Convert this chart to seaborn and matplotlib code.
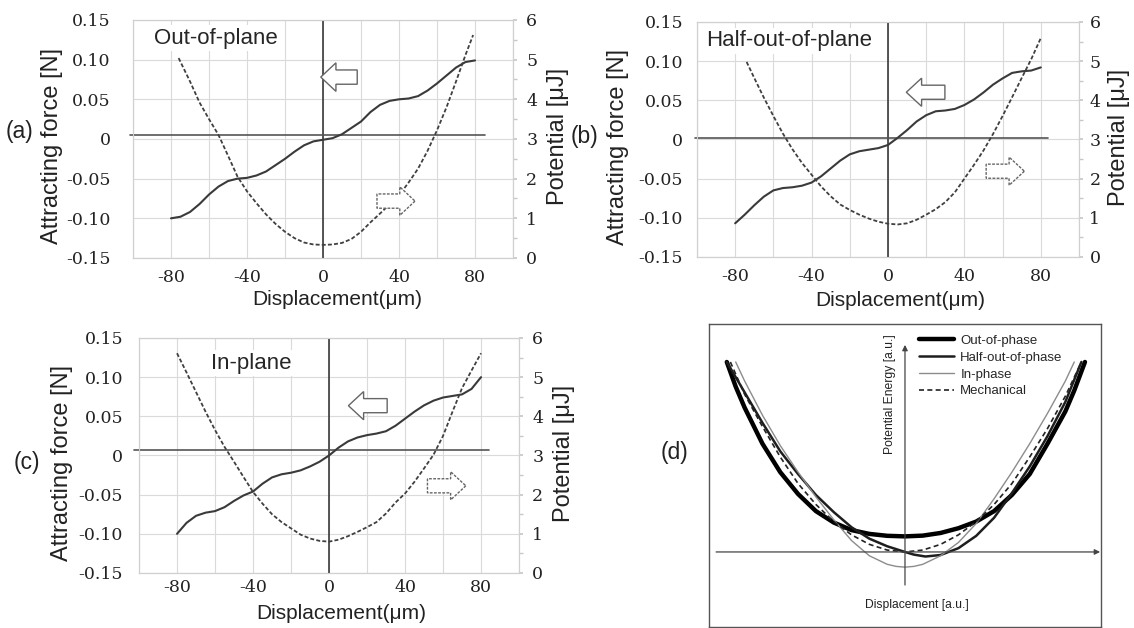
import matplotlib
matplotlib.use("Agg")
import numpy as np
import matplotlib.pyplot as plt
from matplotlib.patches import FancyArrow
import seaborn as sns

sns.set_theme(style="white")
plt.rcParams["font.family"] = ["Liberation Sans", "DejaVu Sans"]
SERIF = "DejaVu Serif"

# displacement (um) for the force curves
disp = [-80, -75, -70, -65, -60, -55, -50, -45, -40, -35, -30, -25, -20, -15, -10, -5,
        0, 5, 10, 15, 20, 25, 30, 35, 40, 45, 50, 55, 60, 65, 70, 75, 80]

# (a) out-of-plane
force_a = [-0.100, -0.098, -0.092, -0.082, -0.070, -0.060, -0.053, -0.050, -0.049, -0.046,
           -0.041, -0.033, -0.025, -0.016, -0.008, -0.003, -0.001, 0.001, 0.006, 0.014,
           0.022, 0.034, 0.043, 0.048, 0.050, 0.051, 0.054, 0.061, 0.070, 0.080, 0.090,
           0.097, 0.099]
pot_a_x = [-76, -70, -65, -60, -55, -50, -45, -40, -35, -30, -25, -20, -15, -10, -5, 0,
           5, 10, 15, 20, 25, 30, 35, 40, 45, 50, 55, 60, 65, 70, 75, 79]
pot_a = [5.04, 4.45, 3.92, 3.50, 3.10, 2.58, 2.05, 1.68, 1.38, 1.10, 0.86, 0.66, 0.50,
         0.39, 0.34, 0.33, 0.34, 0.38, 0.48, 0.66, 0.90, 1.12, 1.35, 1.58, 1.90, 2.25,
         2.70, 3.22, 3.80, 4.45, 5.12, 5.62]

# (b) half-out-of-plane
force_b = [-0.107, -0.096, -0.084, -0.073, -0.065, -0.062, -0.061, -0.059, -0.055, -0.047,
           -0.037, -0.027, -0.019, -0.015, -0.013, -0.011, -0.007, 0.002, 0.012, 0.023,
           0.031, 0.036, 0.037, 0.039, 0.044, 0.051, 0.060, 0.070, 0.078, 0.085, 0.087,
           0.088, 0.092]
pot_b_x = [-74, -70, -65, -60, -55, -50, -45, -40, -35, -30, -25, -20, -15, -10, -5, 0,
           5, 10, 15, 20, 25, 30, 35, 40, 45, 50, 55, 60, 65, 70, 75, 80]
pot_b = [4.98, 4.57, 4.07, 3.60, 3.15, 2.75, 2.40, 2.10, 1.80, 1.55, 1.34, 1.20, 1.08,
         0.98, 0.90, 0.85, 0.83, 0.86, 0.95, 1.08, 1.22, 1.40, 1.65, 2.00, 2.35, 2.72,
         3.14, 3.60, 4.08, 4.57, 5.05, 5.59]

# (c) in-plane
force_c = [-0.100, -0.086, -0.077, -0.073, -0.071, -0.066, -0.058, -0.051, -0.046, -0.036,
           -0.028, -0.024, -0.022, -0.019, -0.014, -0.008, 0.000, 0.010, 0.018, 0.023,
           0.026, 0.028, 0.031, 0.038, 0.047, 0.056, 0.064, 0.070, 0.074, 0.076, 0.078,
           0.085, 0.100]
pot_c_x = [-80, -75, -70, -65, -60, -55, -50, -45, -40, -35, -30, -25, -20, -15, -10, -5,
           0, 5, 10, 15, 20, 25, 30, 35, 40, 45, 50, 55, 60, 65, 70, 75, 80]
pot_c = [5.61, 5.12, 4.62, 4.12, 3.65, 3.22, 2.84, 2.45, 2.07, 1.77, 1.50, 1.30, 1.14,
         0.98, 0.88, 0.82, 0.80, 0.85, 0.94, 1.05, 1.17, 1.30, 1.52, 1.80, 2.03, 2.33,
         2.67, 3.02, 3.50, 4.12, 4.72, 5.17, 5.61]

# (d) potential energy sketches (arbitrary units)
d_out_x = [-1.0, -0.95, -0.9, -0.85, -0.8, -0.7, -0.6, -0.5, -0.4, -0.3, -0.2, -0.1, 0.0,
           0.1, 0.2, 0.3, 0.4, 0.5, 0.6, 0.7, 0.8, 0.9, 0.95, 1.01]
d_out_y = [1.0, 0.87, 0.76, 0.665, 0.57, 0.42, 0.305, 0.215, 0.155, 0.115, 0.095, 0.085,
           0.082, 0.086, 0.10, 0.125, 0.16, 0.215, 0.30, 0.41, 0.57, 0.74, 0.85, 1.0]
d_half_x = [-1.0, -0.9, -0.8, -0.7, -0.6, -0.5, -0.4, -0.3, -0.2, -0.1, 0.0, 0.05, 0.115,
            0.2, 0.3, 0.4, 0.5, 0.6, 0.7, 0.8, 0.9, 0.99]
d_half_y = [1.0, 0.84, 0.68, 0.53, 0.41, 0.30, 0.21, 0.13, 0.07, 0.03, 0.0, -0.014,
            -0.024, -0.016, 0.02, 0.085, 0.18, 0.31, 0.45, 0.61, 0.79, 1.0]
d_in_x = [-0.95, -0.9, -0.8, -0.7, -0.6, -0.5, -0.4, -0.3, -0.2, -0.1, -0.05, 0.0, 0.05,
          0.1, 0.2, 0.3, 0.4, 0.5, 0.6, 0.7, 0.8, 0.9, 0.95]
d_in_y = [1.0, 0.9, 0.72, 0.56, 0.42, 0.29, 0.17, 0.06, -0.02, -0.065, -0.076, -0.08,
          -0.076, -0.065, -0.02, 0.05, 0.15, 0.28, 0.42, 0.57, 0.73, 0.9, 1.0]
d_mech_x = [-0.98, -0.9, -0.8, -0.7, -0.6, -0.5, -0.4, -0.3, -0.2, -0.1, 0.0, 0.1, 0.2,
            0.3, 0.4, 0.5, 0.6, 0.7, 0.8, 0.9, 0.98]
d_mech_y = [1.0, 0.83, 0.66, 0.5, 0.36, 0.25, 0.16, 0.09, 0.04, 0.01, 0.0, 0.01, 0.04,
            0.09, 0.16, 0.25, 0.36, 0.5, 0.65, 0.82, 0.98]

x_ticks = [-100, -80, -60, -40, -20, 0, 20, 40, 60, 80, 100]
x_labels = ["", "-80", "", "-40", "", "0", "", "40", "", "80", ""]
y_ticks = [-0.15, -0.10, -0.05, 0, 0.05, 0.10, 0.15]
y_labels = ["-0.15", "-0.10", "-0.05", "0", "0.05", "0.10", "0.15"]
p_ticks = [0, 1, 2, 3, 4, 5, 6]

fig = plt.figure(figsize=(11.34, 6.28), dpi=100)


def block_arrow(ax, x0, x1, yc, left, dashed):
    h = 0.12
    if left:
        arr = FancyArrow(x1, yc, x0 - x1, 0, width=h * 0.5, head_width=h, head_length=0.04,
                         length_includes_head=True, transform=ax.transAxes)
    else:
        arr = FancyArrow(x0, yc, x1 - x0, 0, width=h * 0.5, head_width=h, head_length=0.04,
                         length_includes_head=True, transform=ax.transAxes)
    arr.set_facecolor("white")
    arr.set_edgecolor("#666666")
    arr.set_linewidth(1.0)
    if dashed:
        arr.set_linestyle((0, (2, 1)))
    arr.set_zorder(6)
    ax.add_patch(arr)


def force_panel(rect, force, pot_x, pot, title, title_xy, zero_y, zero_x, ypad, xpad,
                ylab_x, rlab_x, xlab_xy, arrow_l, arrow_r, rpad):
    ax = fig.add_axes(rect)
    ax.set_xlim(-100, 100)
    ax.set_ylim(-0.15, 0.15)
    ax.set_xticks(x_ticks)
    ax.set_xticklabels(x_labels, fontfamily=SERIF, fontsize=12.5)
    ax.set_yticks(y_ticks)
    ax.set_yticklabels(y_labels, fontfamily=SERIF, fontsize=12.5)
    ax.tick_params(axis="x", length=0, pad=xpad, colors="#222222")
    ax.tick_params(axis="y", length=0, pad=ypad, colors="#222222")
    ax.grid(True, color="#dadada", lw=0.8)
    for s in ax.spines.values():
        s.set_color("#d0d0d0")
        s.set_linewidth(0.8)

    sns.lineplot(x=disp, y=force, ax=ax, color="#3a3a3a", lw=1.5, zorder=4)
    ax.axvline(0, color="#3a3a3a", lw=1.2, zorder=3)
    ax.plot(zero_x, [zero_y, zero_y], color="#555555", lw=1.2, clip_on=False, zorder=3)
    ax.text(title_xy[0], title_xy[1], title, fontsize=16, va="center", ha="left", zorder=3.5,
            bbox=dict(facecolor="white", edgecolor="none", pad=2))

    ax.set_xlabel("Displacement(μm)", fontsize=15, color="#222222")
    ax.xaxis.set_label_coords(*xlab_xy)
    ax.set_ylabel("Attracting force [N]", fontsize=17, color="#222222")
    ax.yaxis.set_label_coords(ylab_x, 0.47)

    ax2 = ax.twinx()
    sns.lineplot(x=pot_x, y=pot, ax=ax2, color="#404040", lw=1.3,
                 linestyle=(0, (2.2, 1.2)), zorder=4)
    ax2.set_ylim(0, 6)
    ax2.set_yticks(p_ticks)
    ax2.set_yticklabels([str(t) for t in p_ticks], fontfamily=SERIF, fontsize=12.5)
    ax2.set_yticks(np.arange(0.5, 6, 1), minor=True)
    ax2.tick_params(axis="y", which="both", length=3, color="#c8c8c8", pad=rpad,
                    labelcolor="#222222")
    for s in ax2.spines.values():
        s.set_color("#d0d0d0")
        s.set_linewidth(0.8)
    ax2.set_ylabel("Potential [μJ]", fontsize=17, color="#222222")
    ax2.yaxis.set_label_coords(rlab_x, 0.51)

    block_arrow(ax2, arrow_l[0], arrow_l[1], arrow_l[2], True, False)
    block_arrow(ax2, arrow_r[0], arrow_r[1], arrow_r[2], False, True)
    return ax, ax2


force_panel([0.1173, 0.5892, 0.3351, 0.3790], force_a, pot_a_x, pot_a, "Out-of-plane",
            (-89, 0.127), 0.005, [-101.6, 85], 16, 8, -0.184, 1.089, (0.537, -0.135),
            (0.494, 0.590, 0.760), (0.642, 0.742, 0.239), 6.5)
force_panel([0.6146, 0.5908, 0.3369, 0.3742], force_b, pot_b_x, pot_b, "Half-out-of-plane",
            (-95.3, 0.126), 0.002, [-101, 84], 10, 8, -0.178, 1.076, (0.531, -0.145),
            (0.548, 0.649, 0.701), (0.757, 0.857, 0.365), 4.5)
force_panel([0.1226, 0.0876, 0.3351, 0.3742], force_c, pot_c_x, pot_c, "In-plane",
            (-62, 0.118), 0.007, [-102.6, 84], 11.5, 4, -0.174, 1.089, (0.532, -0.13),
            (0.551, 0.653, 0.712), (0.759, 0.860, 0.371), 6.5)

# panel (d)
axd = fig.add_axes([0.6252, 0.0016, 0.3457, 0.4825])
sns.lineplot(x=d_out_x, y=d_out_y, ax=axd, color="black", lw=3.2, label="Out-of-phase")
sns.lineplot(x=d_half_x, y=d_half_y, ax=axd, color="#1e1e1e", lw=1.8, label="Half-out-of-phase")
sns.lineplot(x=d_in_x, y=d_in_y, ax=axd, color="#8c8c8c", lw=1.0, label="In-phase")
sns.lineplot(x=d_mech_x, y=d_mech_y, ax=axd, color="#222222", lw=1.2,
             linestyle=(0, (3, 2)), label="Mechanical")
axd.set_xlim(-1.1, 1.1)
axd.set_ylim(-0.395, 1.2)
axd.set_xticks([])
axd.set_yticks([])
axd.set_xlabel("")
axd.set_ylabel("")
for s in axd.spines.values():
    s.set_color("#555555")
    s.set_linewidth(1.0)
axd.annotate("", xy=(1.095, 0), xytext=(-1.06, 0),
             arrowprops=dict(arrowstyle="-|>", color="#444444", lw=0.9, mutation_scale=8,
                             shrinkA=0, shrinkB=0))
axd.annotate("", xy=(0, 1.09), xytext=(0, -0.174),
             arrowprops=dict(arrowstyle="-|>", color="#444444", lw=0.9, mutation_scale=8,
                             shrinkA=0, shrinkB=0))
axd.text(-0.084, 0.83, "Potential Energy [a.u.]", rotation=90, fontsize=8.7,
         ha="center", va="center", color="#222222")
axd.text(0.067, -0.28, "Displacement [a.u.]", fontsize=8.7, ha="center", va="center",
         color="#222222")
axd.legend(loc="upper left", bbox_to_anchor=(0.535, 0.965), frameon=False, fontsize=9.5,
           handlelength=2.7, handletextpad=0.45, labelspacing=0.35, borderaxespad=0,
           borderpad=0)

# panel letters
for lx, ly, lt in [(0.0168, 0.790, "(a)"), (0.515, 0.782, "(b)"),
                   (0.0238, 0.264, "(c)"), (0.595, 0.280, "(d)")]:
    fig.text(lx, ly, lt, fontsize=16.5, ha="center", va="center", color="#222222")

fig.savefig("out.png", dpi=100)
